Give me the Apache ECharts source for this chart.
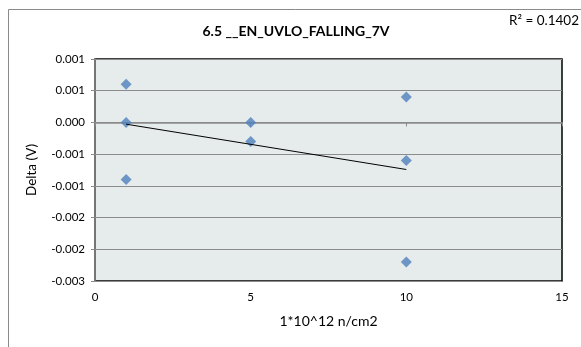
<!DOCTYPE html>
<html><head><meta charset="utf-8">
<script src="https://cdn.jsdelivr.net/npm/echarts@6/dist/echarts.min.js"></script>
<style>html,body{margin:0;padding:0;background:#fff}#c{width:581px;height:347px}</style>
</head><body><div id="c"></div>
<script>
const titleText = '6.5 __EN_UVLO_FALLING_7V';
const xName = '1*10^12 n/cm2';
const yName = 'Delta (V)';
const fluence = [1, 1, 1, 5, 5, 10, 10, 10];
const delta = [0.0006, 0, -0.0009, 0, -0.0003, 0.0004, -0.0006, -0.0022];
const yTickLabels = ['-0.003', '-0.002', '-0.002', '-0.001', '-0.001', '0.000', '0.001', '0.001'];
const xTickLabels = ['0', '5', '10', '15'];
const r2Text = 'R\u00b2 = 0.1402';

// linear trendline (least squares) from the data
const n = fluence.length;
const mx = fluence.reduce((a, b) => a + b, 0) / n;
const my = delta.reduce((a, b) => a + b, 0) / n;
let sxy = 0, sxx = 0;
for (let i = 0; i < n; i++) { sxy += (fluence[i] - mx) * (delta[i] - my); sxx += (fluence[i] - mx) ** 2; }
const slope = sxy / sxx, icpt = my - slope * mx;
const xMin = Math.min(...fluence), xMax = Math.max(...fluence);
const trend = [[xMin, icpt + slope * xMin], [xMax, icpt + slope * xMax]];

const yMin = -0.0025, yMax = 0.001, yInt = 0.0005;
const font = 'Lato, "Open Sans", sans-serif';
const chart = echarts.init(document.getElementById('c'));
chart.setOption({
  animation: false,
  backgroundColor: '#fff',
  graphic: [
    { type: 'rect', left: 6, top: 7, shape: { width: 600, height: 345 }, style: { fill: 'none', stroke: '#8a8a8a', lineWidth: 1 }, z: -10 },
    { type: 'text', x: 579, y: 21, style: { text: r2Text, font: '13.5px ' + font, fill: '#000', textAlign: 'right', textVerticalAlign: 'middle' } },
    { type: 'text', x: 296, y: 31, style: { text: titleText, font: 'bold 14px ' + font, fill: '#000', textAlign: 'center', textVerticalAlign: 'middle' } }
  ],
  grid: { left: 95, top: 59, width: 467, height: 222, show: true, backgroundColor: '#E6EBEB', borderColor: '#000', borderWidth: 1.5 },
  xAxis: {
    type: 'value', min: 0, max: 15, interval: 5,
    name: xName, nameLocation: 'middle', nameGap: 33,
    nameTextStyle: { fontFamily: font, fontSize: 14, color: '#000' },
    axisLine: { show: true, lineStyle: { color: '#8a8a8a', width: 1.5 } },
    axisTick: { show: true, length: 4, inside: false, lineStyle: { color: '#8a8a8a' } },
    axisLabel: { fontFamily: font, fontSize: 11.5, color: '#000', margin: 10,
      formatter: (v) => xTickLabels[Math.round(v / 5)] },
    splitLine: { show: false }
  },
  yAxis: {
    type: 'value', min: yMin, max: yMax, interval: yInt,
    name: yName, nameLocation: 'middle', nameGap: 56,
    nameTextStyle: { fontFamily: font, fontSize: 13.5, color: '#000' },
    axisLine: { show: true, lineStyle: { color: '#8a8a8a', width: 1.5 } },
    axisTick: { show: true, length: 4, lineStyle: { color: '#8a8a8a' } },
    axisLabel: { fontFamily: font, fontSize: 11.5, color: '#000', margin: 10,
      formatter: (v) => yTickLabels[Math.round((v - yMin) / yInt)] },
    splitLine: { show: true, lineStyle: { color: '#8c8c8c', width: 1 } }
  },
  series: [
    { type: 'scatter', symbol: 'diamond', symbolSize: 11,
      itemStyle: { color: '#4F81BD' },
      data: fluence.map((x, i) => [x, delta[i]]), z: 3 },
    { type: 'line', data: trend, symbol: 'none', silent: true,
      lineStyle: { color: '#000', width: 1 }, z: 4 }
  ]
});
</script></body></html>
